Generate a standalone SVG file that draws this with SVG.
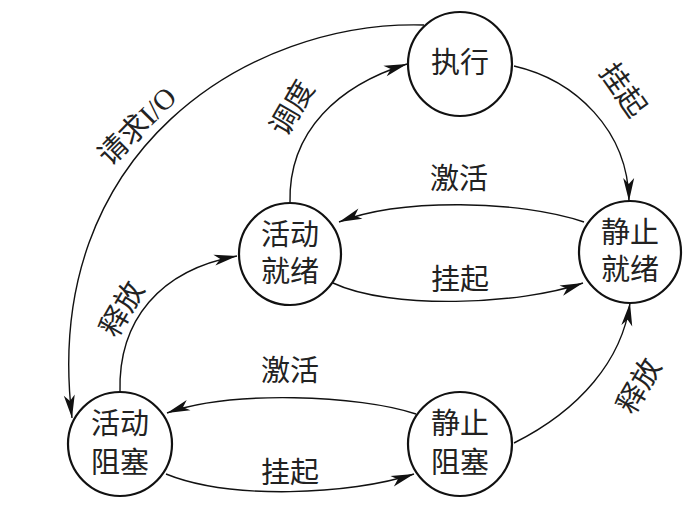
<svg xmlns="http://www.w3.org/2000/svg" width="688" height="527" viewBox="0 0 688 527">
<style>
.node circle{fill:#fff;stroke:#111;stroke-width:2.2}
.node text,.lbl{font-family:"Liberation Serif","Noto Sans CJK SC",serif;font-size:29px;fill:#222;text-anchor:middle;dominant-baseline:central}
.edge{fill:none;stroke:#111;stroke-width:1.4;marker-end:url(#ah)}
</style>
<defs>
<marker id="ah" markerUnits="userSpaceOnUse" markerWidth="26" markerHeight="14" viewBox="0 -7 24 14" refX="23" refY="0" orient="auto">
<path d="M0,-5.5 L23,0 L0,5.5 L6,0 z" fill="#111"/>
</marker>
</defs>
<rect width="688" height="527" fill="#fff"/>
<g id="connectors">
<path class="edge" d="M514,66 C575,80 628,130 629,201"/>
<path class="edge" d="M584,222 C520,200 400,198 339,222"/>
<path class="edge" d="M333,283 C390,310 520,305 583,283"/>
<path class="edge" d="M290,203 C288,130 340,85 407,64"/>
<path class="edge" d="M424,25 C250,20 40,150 72,418"/>
<path class="edge" d="M120,392 C118,320 160,270 237,256"/>
<path class="edge" d="M416,414 C360,395 230,390 167,413"/>
<path class="edge" d="M166,474 C230,500 350,495 414,474"/>
<path class="edge" d="M514,443 C580,410 622,360 630,303"/>
<text class="lbl" transform="translate(623,90) rotate(55)">挂起</text>
<text class="lbl" x="459" y="179">激活</text>
<text class="lbl" x="460" y="280">挂起</text>
<text class="lbl" transform="translate(292,108) rotate(-60)">调度</text>
<text class="lbl" transform="translate(137,126) rotate(-45)">请求I/O</text>
<text class="lbl" transform="translate(122,309) rotate(-60)">释放</text>
<text class="lbl" x="290" y="371">激活</text>
<text class="lbl" x="290" y="473">挂起</text>
<text class="lbl" transform="translate(639,386) rotate(-60)">释放</text>
</g>
<g id="exec" class="node"><circle cx="460" cy="64" r="52"/><text x="460" y="63">执行</text></g>
<g id="active-ready" class="node"><circle cx="290" cy="254" r="51"/><text x="290" y="235">活动</text><text x="290" y="272">就绪</text></g>
<g id="static-ready" class="node"><circle cx="630" cy="252" r="51"/><text x="630" y="233">静止</text><text x="630" y="270">就绪</text></g>
<g id="active-blocked" class="node"><circle cx="120" cy="444" r="52"/><text x="120" y="424">活动</text><text x="120" y="463">阻塞</text></g>
<g id="static-blocked" class="node"><circle cx="460" cy="444" r="52"/><text x="460" y="424">静止</text><text x="460" y="463">阻塞</text></g>
</svg>
